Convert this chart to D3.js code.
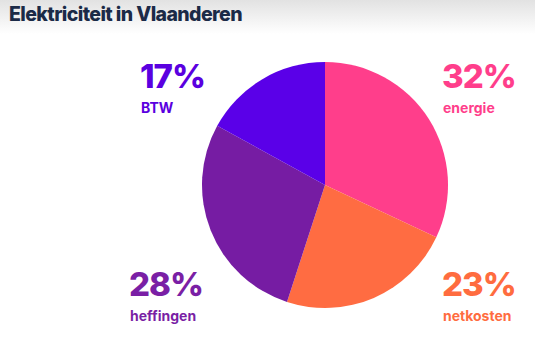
<!DOCTYPE html>
<html><head><meta charset="utf-8">
<script src="https://cdn.jsdelivr.net/npm/d3@7"></script>
<style>html,body{margin:0;padding:0;background:#fff;overflow:hidden}</style>
</head><body>
<svg id="c" width="535" height="344"></svg>
<script>
const title = "Elektriciteit in Vlaanderen";
const categories = ["energie", "netkosten", "heffingen", "BTW"];
const values = [32, 23, 28, 17];
const colors = ["#ff3e8b", "#ff6c42", "#761ca3", "#5a00e8"];
const textColors = ["#ff3e8b", "#ff6c3f", "#7a1fa5", "#5a00e0"];

const svg = d3.select("#c");
const defs = svg.append("defs");
const g = defs.append("linearGradient").attr("id","bg").attr("x1",0).attr("y1",0).attr("x2",0).attr("y2",1);
g.append("stop").attr("offset","0%").attr("stop-color","#e2e2e2");
g.append("stop").attr("offset","100%").attr("stop-color","#ffffff");
svg.append("rect").attr("width",535).attr("height",34).attr("fill","url(#bg)");

svg.append("text").attr("x", 9).attr("y", 21)
  .attr("font-family","Inter, 'Liberation Sans', sans-serif").attr("font-weight",800)
  .attr("font-size",19.5).attr("fill","#1b2a47").attr("letter-spacing",-0.6).text(title);

const cx = 325, cy = 185, r = 123;
const pie = d3.pie().sort(null).value(d => d)(values);
const arc = d3.arc().innerRadius(0).outerRadius(r);
svg.append("g").attr("transform",`translate(${cx},${cy})`)
  .selectAll("path").data(pie).join("path")
  .attr("d", arc).attr("fill", (d,i) => colors[i]);

const slots = [
  {x:442, y:88, anchor:"start"},
  {x:442, y:296, anchor:"start"},
  {x:129, y:296, anchor:"start"},
  {x:140, y:88, anchor:"start"}
];
const fmt = v => v + "%";
categories.forEach((c,i) => {
  const s = slots[i];
  svg.append("text").attr("x", s.x).attr("y", s.y)
    .attr("font-family","Inter, 'Liberation Sans', sans-serif").attr("font-weight",800)
    .attr("font-size",33).attr("letter-spacing",-1).attr("fill",textColors[i]).text(fmt(values[i]));
  svg.append("text").attr("x", s.x + 1).attr("y", s.y + 25)
    .attr("font-family","Inter, 'Liberation Sans', sans-serif").attr("font-weight",700)
    .attr("font-size",14).attr("fill",textColors[i]).text(c);
});
</script>
</body></html>
